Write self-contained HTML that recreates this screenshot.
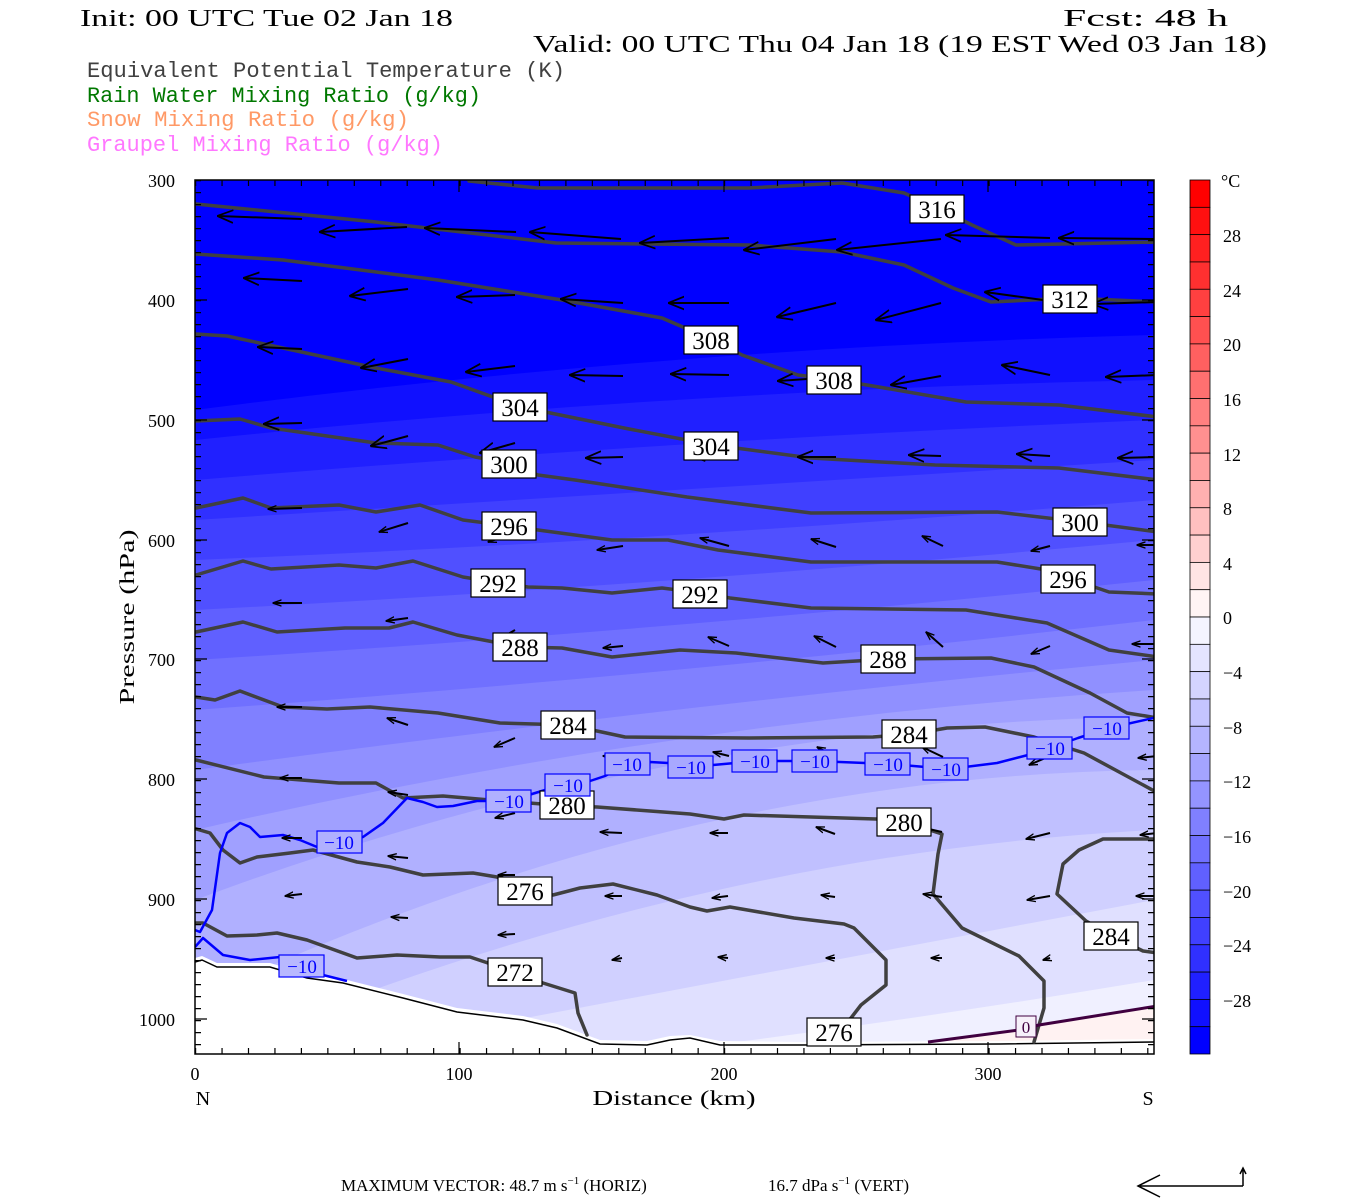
<!DOCTYPE html>
<html><head><meta charset="utf-8"><style>html,body{margin:0;padding:0;background:#fff}svg{display:block}</style></head><body>
<svg width="1350" height="1200" viewBox="0 0 1350 1200" xmlns="http://www.w3.org/2000/svg" font-family="Liberation Serif, serif">
<defs>
<marker id="a" markerUnits="userSpaceOnUse" viewBox="0 0 20 20" refX="19" refY="10" markerWidth="16" markerHeight="16" orient="auto"><path d="M0,2 L20,10 L0,18" fill="none" stroke="#000" stroke-width="2.2"/></marker>
<marker id="b" markerUnits="userSpaceOnUse" viewBox="0 0 20 20" refX="19" refY="10" markerWidth="9" markerHeight="9" orient="auto"><path d="M0,3 L20,10 L0,17" fill="none" stroke="#000" stroke-width="3"/></marker>
<clipPath id="pc"><rect x="195" y="180" width="959" height="874"/></clipPath>
</defs>
<g font-size="24" fill="#000">
<text x="80" y="26" textLength="373" lengthAdjust="spacingAndGlyphs">Init: 00 UTC Tue 02 Jan 18</text>
<text x="1063" y="26" textLength="165" lengthAdjust="spacingAndGlyphs">Fcst:   48 h</text>
<text x="533" y="52" textLength="734" lengthAdjust="spacingAndGlyphs">Valid: 00 UTC Thu 04 Jan 18 (19 EST Wed 03 Jan 18)</text>
</g>
<g font-size="22" font-family="Liberation Mono, monospace">
<text x="87" y="77" fill="#404040" textLength="478" lengthAdjust="spacingAndGlyphs">Equivalent Potential Temperature (K)</text>
<text x="87" y="102" fill="#007800" textLength="394" lengthAdjust="spacingAndGlyphs">Rain Water Mixing Ratio (g/kg)</text>
<text x="87" y="126" fill="#ff9966" textLength="322" lengthAdjust="spacingAndGlyphs">Snow Mixing Ratio (g/kg)</text>
<text x="87" y="151" fill="#ff77ff" textLength="356" lengthAdjust="spacingAndGlyphs">Graupel Mixing Ratio (g/kg)</text>
</g>
<g clip-path="url(#pc)">
<rect x="195" y="180" width="959" height="874" fill="#0000ff"/>
<path d="M195,410 Q675,347.5 1154,335 L1154,1054 L195,1054Z" fill="#1010ff"/>
<path d="M195,440 Q675,390 1154,380 L1154,1054 L195,1054Z" fill="#2020ff"/>
<path d="M195,480 Q675,440 1154,420 L1154,1054 L195,1054Z" fill="#3030ff"/>
<path d="M195,520 Q675,490 1154,460 L1154,1054 L195,1054Z" fill="#4040ff"/>
<path d="M195,560 Q675,540 1154,500 L1154,1054 L195,1054Z" fill="#5050ff"/>
<path d="M195,610 Q675,585 1154,540 L1154,1054 L195,1054Z" fill="#6060ff"/>
<path d="M195,660 Q675,630 1154,580 L1154,1054 L195,1054Z" fill="#7070ff"/>
<path d="M195,710 Q675,675 1154,620 L1154,1054 L195,1054Z" fill="#8080ff"/>
<path d="M195,770 Q675,705 1154,660 L1154,1054 L195,1054Z" fill="#9090ff"/>
<path d="M195,830 Q675,720 1154,690 L1154,1054 L195,1054Z" fill="#a0a0ff"/>
<path d="M195,900 Q675,721 1154,717 L1154,1054 L195,1054Z" fill="#b0b0ff"/>
<path d="M195,1000 Q675,775 1154,770 L1154,1054 L195,1054Z" fill="#c0c0ff"/>
<path d="M195,1060 Q675,855 1154,830 L1154,1054 L195,1054Z" fill="#d0d0ff"/>
<path d="M195,1080 Q675,990 1154,900 L1154,1054 L195,1054Z" fill="#e0e0ff"/>
<path d="M195,1100 Q675,1060 1154,980 L1154,1054 L195,1054Z" fill="#f0f0ff"/>
<path d="M928,1042 L1019,1030 L1157,1006 L1157,1054 L928,1054Z" fill="#fff2f2"/>
<path d="M195,958 L202,956 L217,963 L270,963 L307,974 L343,979 L403,994 L457,1008 L523,1016 L557,1024 L600,1040 L647,1041 L670,1036 L690,1035 L720,1041 L800,1042 L1000,1041 L1154,1039 L1154,1054 L195,1054Z" fill="#fff"/>
<polyline points="195,962 202,960 217,967 270,967 307,978 343,983 403,998 457,1012 523,1020 557,1028 600,1044 647,1045 670,1040 690,1038 720,1045 800,1045 1000,1044 1154,1042" fill="none" stroke="#000" stroke-width="1.5"/>
<g fill="none" stroke="#404040" stroke-width="3.5" stroke-linejoin="round" stroke-linecap="round">
<polyline points="469,181 538,188 749,188 842,183 904,193 938,208 972,225 1016,245 1158,242"/>
<polyline points="196,204 376,222 556,243 749,245 842,252 904,265 953,288 991,302 1071,298 1158,302"/>
<polyline points="196,254 283,260 438,280 562,300 662,318 713,340 742,355 798,375 836,380 867,385 966,402 1059,405 1158,417"/>
<polyline points="196,334 227,336 376,368 451,382 521,407 624,428 713,445 811,458 935,465 1059,468 1158,480"/>
<polyline points="196,421 240,419 271,428 376,443 438,445 475,457 508,463 538,475 575,480 687,497 811,513 997,512 1082,522 1158,532"/>
<polyline points="196,508 243,498 271,508 339,505 376,512 420,505 463,520 510,526 538,530 612,540 668,540 718,550 811,562 997,562 1047,570 1071,579 1109,592 1158,594"/>
<polyline points="196,575 243,561 271,569 339,565 376,568 413,561 463,577 500,583 528,587 562,588 612,593 662,588 702,593 730,598 811,608 966,610 1047,623 1109,650 1158,657"/>
<polyline points="196,632 243,622 277,632 345,628 389,628 413,622 457,635 494,642 521,647 562,648 612,657 680,650 736,653 823,663 890,659 991,658 1034,667 1090,693 1127,713 1158,718"/>
<polyline points="196,697 215,700 240,691 283,707 327,709 370,707 438,713 500,723 569,725 625,737 749,738 873,737 912,734 947,728 985,727 1034,737 1084,753 1121,773 1158,793"/>
<polyline points="196,760 264,777 339,783 376,783 403,798 443,796 490,800 568,806 597,807 690,814 724,819 744,815 876,819 905,822 942,834 938,854 933,894 962,928 1019,956 1044,981 1044,1008 1034,1042"/>
<polyline points="193,828 210,833 223,850 240,863 257,857 290,853 313,850 357,862 390,867 423,875 473,873 497,877 525,891 553,895 580,888 613,884 657,895 690,907 707,911 730,907 794,918 844,924 854,928 886,960 886,985 861,1005 851,1018 834,1032"/>
<polyline points="193,923 203,923 227,936 257,935 277,933 307,940 357,958 397,955 440,957 470,957 515,972 543,983 575,993 578,1013 587,1035"/>
<polyline points="1158,839 1103,839 1079,850 1063,864 1057,894 1086,921 1114,937 1143,951 1158,953"/>
</g>
<g fill="none" stroke="#0000ff" stroke-width="2.5" stroke-linejoin="round">
<polyline points="195,947 203,938 223,955 250,960 280,957 302,966 323,975 347,981"/>
<polyline points="195,930 200,932 212,910 220,853 227,833 240,823 250,827 260,837 283,835 300,840 317,847 339,842 363,837 383,823 407,798 423,802 437,807 453,806 477,801 509,801 545,790 568,785 590,781 605,776 627,764 650,762 668,763 691,767 757,761 815,761 890,764 949,769 997,763 1028,755 1050,748 1078,738 1109,728 1158,717"/>
</g>
<polyline points="928,1042 1019,1030 1039,1025 1157,1006" fill="none" stroke="#400040" stroke-width="3"/>
<g stroke="#000" stroke-width="2" marker-end="url(#a)">
<line x1="302" y1="219" x2="218" y2="216"/><line x1="407" y1="227" x2="320" y2="232"/><line x1="516" y1="232" x2="425" y2="228"/><line x1="621" y1="239" x2="530" y2="232"/><line x1="729" y1="238" x2="640" y2="243"/><line x1="836" y1="239" x2="744" y2="250"/><line x1="941" y1="239" x2="837" y2="250"/><line x1="1050" y1="238" x2="946" y2="235"/><line x1="1158" y1="239" x2="1059" y2="238"/>
<line x1="302" y1="281" x2="244" y2="278"/><line x1="408" y1="289" x2="350" y2="296"/><line x1="515" y1="295" x2="457" y2="297"/><line x1="623" y1="303" x2="561" y2="299"/><line x1="729" y1="303" x2="669" y2="303"/><line x1="836" y1="303" x2="777" y2="317"/><line x1="941" y1="303" x2="876" y2="320"/><line x1="1050" y1="301" x2="985" y2="292"/><line x1="1158" y1="302" x2="1093" y2="304"/>
<line x1="302" y1="349" x2="258" y2="347"/><line x1="408" y1="359" x2="361" y2="368"/><line x1="515" y1="366" x2="466" y2="372"/><line x1="623" y1="376" x2="570" y2="375"/><line x1="729" y1="375" x2="671" y2="374"/><line x1="836" y1="377" x2="778" y2="381"/><line x1="941" y1="376" x2="891" y2="385"/><line x1="1050" y1="375" x2="1002" y2="365"/><line x1="1158" y1="375" x2="1106" y2="377"/>
<line x1="302" y1="423" x2="264" y2="424"/><line x1="408" y1="436" x2="371" y2="446"/><line x1="515" y1="443" x2="480" y2="453"/><line x1="623" y1="457" x2="586" y2="458"/><line x1="729" y1="454" x2="690" y2="455"/><line x1="836" y1="457" x2="798" y2="457"/><line x1="941" y1="456" x2="909" y2="455"/><line x1="1050" y1="456" x2="1017" y2="454"/><line x1="1158" y1="457" x2="1118" y2="458"/>
</g>
<g stroke="#000" stroke-width="2" marker-end="url(#b)">
<line x1="302" y1="508" x2="268" y2="509"/><line x1="408" y1="523" x2="379" y2="532"/><line x1="515" y1="533" x2="488" y2="542"/><line x1="623" y1="546" x2="597" y2="550"/><line x1="729" y1="546" x2="700" y2="538"/><line x1="836" y1="547" x2="811" y2="539"/><line x1="943" y1="546" x2="922" y2="536"/><line x1="1050" y1="546" x2="1031" y2="551"/><line x1="1158" y1="545" x2="1137" y2="545"/>
<line x1="302" y1="603" x2="273" y2="603"/><line x1="408" y1="618" x2="386" y2="621"/><line x1="515" y1="630" x2="494" y2="642"/><line x1="623" y1="646" x2="603" y2="648"/><line x1="729" y1="646" x2="708" y2="637"/><line x1="836" y1="647" x2="814" y2="636"/><line x1="943" y1="647" x2="926" y2="632"/><line x1="1050" y1="646" x2="1031" y2="654"/><line x1="1158" y1="644" x2="1132" y2="644"/>
<line x1="302" y1="707" x2="277" y2="707"/><line x1="408" y1="725" x2="387" y2="718"/><line x1="515" y1="738" x2="494" y2="747"/><line x1="623" y1="757" x2="603" y2="756"/><line x1="729" y1="756" x2="713" y2="752"/><line x1="836" y1="757" x2="817" y2="747"/><line x1="943" y1="757" x2="922" y2="747"/><line x1="1050" y1="756" x2="1029" y2="765"/><line x1="1158" y1="756" x2="1138" y2="758"/>
<line x1="302" y1="778" x2="280" y2="778"/><line x1="408" y1="795" x2="388" y2="792"/><line x1="515" y1="813" x2="495" y2="818"/>
<line x1="302" y1="838" x2="282" y2="838"/><line x1="408" y1="858" x2="388" y2="856"/><line x1="515" y1="875" x2="498" y2="875"/><line x1="622" y1="833" x2="600" y2="832"/><line x1="728" y1="833" x2="710" y2="833"/><line x1="835" y1="834" x2="816" y2="827"/><line x1="942" y1="832" x2="920" y2="827"/><line x1="1050" y1="833" x2="1026" y2="839"/><line x1="1157" y1="833" x2="1140" y2="835"/>
<line x1="302" y1="894" x2="285" y2="896"/><line x1="408" y1="918" x2="391" y2="917"/><line x1="515" y1="934" x2="498" y2="935"/><line x1="622" y1="896" x2="605" y2="896"/><line x1="728" y1="896" x2="712" y2="898"/><line x1="835" y1="897" x2="821" y2="895"/><line x1="942" y1="897" x2="923" y2="894"/><line x1="1050" y1="896" x2="1027" y2="900"/><line x1="1157" y1="896" x2="1136" y2="896"/>
<line x1="622" y1="958" x2="612" y2="960"/><line x1="728" y1="958" x2="718" y2="957"/><line x1="835" y1="958" x2="826" y2="958"/><line x1="942" y1="958" x2="931" y2="958"/><line x1="1050" y1="958" x2="1043" y2="960"/>
</g>
<g font-size="25" font-family="Liberation Serif, serif" text-anchor="middle">
<g fill="#fff" stroke="#000" stroke-width="1.2">
<rect x="910" y="195" width="54" height="28"/><rect x="1043" y="285" width="54" height="28"/><rect x="684" y="326" width="54" height="28"/><rect x="807" y="366" width="54" height="28"/><rect x="493" y="393" width="54" height="28"/><rect x="684" y="432" width="54" height="28"/><rect x="482" y="450" width="54" height="28"/><rect x="1053" y="508" width="54" height="28"/><rect x="482" y="512" width="54" height="28"/><rect x="1041" y="565" width="54" height="28"/><rect x="471" y="569" width="54" height="28"/><rect x="673" y="580" width="54" height="28"/><rect x="493" y="633" width="54" height="28"/><rect x="861" y="645" width="54" height="28"/><rect x="541" y="711" width="54" height="28"/><rect x="882" y="720" width="54" height="28"/><rect x="540" y="791" width="54" height="28"/><rect x="877" y="808" width="54" height="28"/><rect x="498" y="877" width="54" height="28"/><rect x="807" y="1018" width="54" height="28"/><rect x="488" y="958" width="54" height="28"/><rect x="1084" y="922" width="54" height="28"/>
</g>
<g fill="#000">
<text x="937" y="218">316</text><text x="1070" y="308">312</text><text x="711" y="349">308</text><text x="834" y="389">308</text><text x="520" y="416">304</text><text x="711" y="455">304</text><text x="509" y="473">300</text><text x="1080" y="531">300</text><text x="509" y="535">296</text><text x="1068" y="588">296</text><text x="498" y="592">292</text><text x="700" y="603">292</text><text x="520" y="656">288</text><text x="888" y="668">288</text><text x="568" y="734">284</text><text x="909" y="743">284</text><text x="567" y="814">280</text><text x="904" y="831">280</text><text x="525" y="900">276</text><text x="834" y="1041">276</text><text x="515" y="981">272</text><text x="1111" y="945">284</text>
</g>
<g stroke="#0000ff" stroke-width="1.2">
<rect x="317" y="831" width="45" height="22" fill="#b0b0ff"/><rect x="486" y="790" width="45" height="22" fill="#b0b0ff"/><rect x="545" y="774" width="45" height="22" fill="#b0b0ff"/><rect x="605" y="753" width="45" height="22" fill="#a8a8ff"/><rect x="668" y="756" width="45" height="22" fill="#a8a8ff"/><rect x="732" y="750" width="45" height="22" fill="#a8a8ff"/><rect x="792" y="750" width="45" height="22" fill="#a8a8ff"/><rect x="865" y="753" width="45" height="22" fill="#a8a8ff"/><rect x="923" y="758" width="45" height="22" fill="#a8a8ff"/><rect x="1027" y="737" width="45" height="22" fill="#a8a8ff"/><rect x="1084" y="717" width="45" height="22" fill="#a8a8ff"/><rect x="279" y="955" width="45" height="22" fill="#b8b8ff"/>
</g>
<g fill="#0000ff" font-size="19">
<text x="339" y="849">−10</text><text x="509" y="808">−10</text><text x="568" y="792">−10</text><text x="627" y="771">−10</text><text x="691" y="774">−10</text><text x="755" y="768">−10</text><text x="815" y="768">−10</text><text x="888" y="771">−10</text><text x="946" y="776">−10</text><text x="1050" y="755">−10</text><text x="1107" y="735">−10</text><text x="302" y="973">−10</text>
</g>
<rect x="1016" y="1016" width="20" height="21" fill="#f6f0fa" stroke="#400040" stroke-width="1"/>
<text x="1026" y="1033" font-size="17" fill="#400040">0</text>
</g>
</g>
<rect x="195" y="180" width="959" height="874" fill="none" stroke="#000" stroke-width="1.5"/>
<g stroke="#000" stroke-width="1.2">
<line x1="198" y1="180" x2="198" y2="1054" stroke-width="6" stroke-dasharray="1.2 10.8"/>
<line x1="1151" y1="180" x2="1151" y2="1054" stroke-width="6" stroke-dasharray="1.2 10.8"/>
<line x1="195" y1="1051" x2="1154" y2="1051" stroke-width="6" stroke-dasharray="1.2 25.25"/>
<line x1="195" y1="183" x2="1154" y2="183" stroke-width="6" stroke-dasharray="1.2 25.25"/>
<path d="M195,300h12M195,420h12M195,540h12M195,659h12M195,779h12M195,899h12M195,1019h12M1154,300h-12M1154,420h-12M1154,540h-12M1154,659h-12M1154,779h-12M1154,899h-12M1154,1019h-12M459,1054v-12M724,1054v-12M988,1054v-12M459,180v12M724,180v12M988,180v12"/>
</g>
<g font-size="18" text-anchor="end" font-family="Liberation Serif, serif">
<text x="175" y="187">300</text><text x="175" y="307">400</text><text x="175" y="427">500</text><text x="175" y="547">600</text><text x="175" y="666">700</text><text x="175" y="786">800</text><text x="175" y="906">900</text><text x="175" y="1026">1000</text>
</g>
<g font-size="18" text-anchor="middle">
<text x="195" y="1080">0</text><text x="459" y="1080">100</text><text x="724" y="1080">200</text><text x="988" y="1080">300</text>
<text x="203" y="1105" font-size="20">N</text><text x="1148" y="1105" font-size="20">S</text>
<text x="674" y="1105" font-size="21" textLength="163" lengthAdjust="spacingAndGlyphs">Distance (km)</text>
<text transform="translate(134,617) rotate(-90)" font-size="21" textLength="175" lengthAdjust="spacingAndGlyphs">Pressure (hPa)</text>
</g>
<g stroke="#000" stroke-width="0.8">
<rect x="1190" y="180.00" width="20" height="27.4" fill="#ff0000"/><rect x="1190" y="207.31" width="20" height="27.4" fill="#ff1010"/><rect x="1190" y="234.63" width="20" height="27.4" fill="#ff2020"/><rect x="1190" y="261.94" width="20" height="27.4" fill="#ff3030"/><rect x="1190" y="289.25" width="20" height="27.4" fill="#ff4040"/><rect x="1190" y="316.56" width="20" height="27.4" fill="#ff5050"/><rect x="1190" y="343.88" width="20" height="27.4" fill="#ff6060"/><rect x="1190" y="371.19" width="20" height="27.4" fill="#ff7070"/><rect x="1190" y="398.50" width="20" height="27.4" fill="#ff8080"/><rect x="1190" y="425.81" width="20" height="27.4" fill="#ff9090"/><rect x="1190" y="453.13" width="20" height="27.4" fill="#ffa0a0"/><rect x="1190" y="480.44" width="20" height="27.4" fill="#ffb0b0"/><rect x="1190" y="507.75" width="20" height="27.4" fill="#ffc0c0"/><rect x="1190" y="535.06" width="20" height="27.4" fill="#ffd0d0"/><rect x="1190" y="562.38" width="20" height="27.4" fill="#ffe4e4"/><rect x="1190" y="589.69" width="20" height="27.4" fill="#fff4f4"/>
<rect x="1190" y="617.00" width="20" height="27.4" fill="#f4f4ff"/><rect x="1190" y="644.31" width="20" height="27.4" fill="#e4e4ff"/><rect x="1190" y="671.63" width="20" height="27.4" fill="#d4d4ff"/><rect x="1190" y="698.94" width="20" height="27.4" fill="#c4c4ff"/><rect x="1190" y="726.25" width="20" height="27.4" fill="#b4b4ff"/><rect x="1190" y="753.56" width="20" height="27.4" fill="#a4a4ff"/><rect x="1190" y="780.88" width="20" height="27.4" fill="#9494ff"/><rect x="1190" y="808.19" width="20" height="27.4" fill="#8080ff"/><rect x="1190" y="835.50" width="20" height="27.4" fill="#7070ff"/><rect x="1190" y="862.81" width="20" height="27.4" fill="#6060ff"/><rect x="1190" y="890.13" width="20" height="27.4" fill="#5050ff"/><rect x="1190" y="917.44" width="20" height="27.4" fill="#4040ff"/><rect x="1190" y="944.75" width="20" height="27.4" fill="#3030ff"/><rect x="1190" y="972.06" width="20" height="27.4" fill="#2020ff"/><rect x="1190" y="999.38" width="20" height="27.4" fill="#1010ff"/><rect x="1190" y="1026.69" width="20" height="27.3" fill="#0000ff"/>
</g>
<g font-size="18">
<text x="1221" y="187">°C</text>
<text x="1223" y="242">28</text><text x="1223" y="297">24</text><text x="1223" y="351">20</text><text x="1223" y="406">16</text><text x="1223" y="461">12</text><text x="1223" y="515">8</text><text x="1223" y="570">4</text><text x="1223" y="624">0</text>
<text x="1223" y="679">−4</text><text x="1223" y="734">−8</text><text x="1223" y="788">−12</text><text x="1223" y="843">−16</text><text x="1223" y="898">−20</text><text x="1223" y="952">−24</text><text x="1223" y="1007">−28</text>
</g>
<g font-size="17">
<text x="341" y="1191">MAXIMUM VECTOR:  48.7 m s<tspan dy="-7" font-size="11">−1</tspan><tspan dy="7"> (HORIZ)</tspan></text>
<text x="768" y="1191">16.7 dPa s<tspan dy="-7" font-size="11">−1</tspan><tspan dy="7"> (VERT)</tspan></text>
</g>
<g stroke="#000" stroke-width="1.5" fill="none">
<path d="M1243,1186 H1140 M1160,1175 L1138,1186 L1160,1197 M1243,1186 V1170 M1240,1174 L1243,1168 L1246,1174"/>
</g>
</svg>
</body></html>
